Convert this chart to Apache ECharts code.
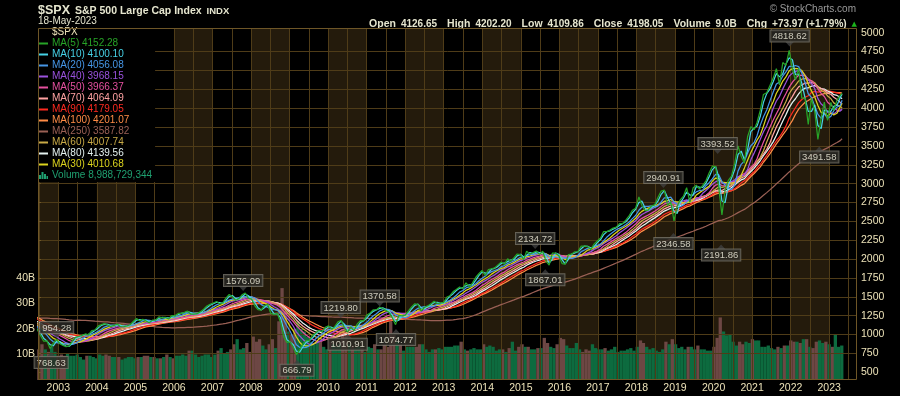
<!DOCTYPE html>
<html><head><meta charset="utf-8">
<script src="https://cdn.jsdelivr.net/npm/echarts@6/dist/echarts.min.js"></script>
<style>html,body{margin:0;padding:0;background:#000}#c{width:900px;height:396px}</style>
</head><body><div id="c"></div>
<script>
// ---------------- DATA ----------------
// S&P 500 closes, one per month, starting Jan 1997 (last value = 18-May-2023)
const priceStartYear = 1997, priceStartMonth = 1;
const lastDate = '2023-05-18';
const monthlyClose = [
786.16,790.82,757.12,801.34,848.28,885.14,954.29,899.47,947.28,914.62,955.40,970.43,
980.28,1049.34,1101.75,1111.75,1090.82,1133.84,1120.67,957.28,1017.01,1098.67,1163.63,1229.23,
1279.64,1238.33,1286.37,1335.18,1301.84,1372.71,1328.72,1320.41,1282.71,1362.93,1388.91,1469.25,
1394.46,1366.42,1498.58,1452.43,1420.60,1454.60,1430.83,1517.68,1436.51,1429.40,1314.95,1320.28,
1366.01,1239.94,1160.33,1249.46,1255.82,1224.38,1211.23,1133.58,1040.94,1059.78,1139.45,1148.08,
1130.20,1106.73,1147.39,1076.92,1067.14,989.82,911.62,916.07,815.28,885.76,936.31,879.82,
855.70,841.15,848.18,916.92,963.59,974.50,990.31,1008.01,995.97,1050.71,1058.20,1111.92,
1131.13,1144.94,1126.21,1107.30,1120.68,1140.84,1101.72,1104.24,1114.58,1130.20,1173.82,1211.92,
1181.27,1203.60,1180.59,1156.85,1191.50,1191.33,1234.18,1220.33,1228.81,1207.01,1249.48,1248.29,
1280.08,1280.66,1294.83,1310.61,1270.09,1270.20,1276.66,1303.82,1335.85,1377.94,1400.63,1418.30,
1438.24,1406.82,1420.86,1482.37,1530.62,1503.35,1455.27,1473.99,1526.75,1549.38,1481.14,1468.36,
1378.55,1330.63,1322.70,1385.59,1400.38,1280.00,1267.38,1282.83,1166.36,968.75,896.24,903.25,
825.88,735.09,797.87,872.81,919.14,919.32,987.48,1020.62,1057.08,1036.19,1095.63,1115.10,
1073.87,1104.49,1169.43,1186.69,1089.41,1030.71,1101.60,1049.33,1141.20,1183.26,1180.55,1257.64,
1286.12,1327.22,1325.83,1363.61,1345.20,1320.64,1292.28,1218.89,1131.42,1253.30,1246.96,1257.60,
1312.41,1365.68,1408.47,1397.91,1310.33,1362.16,1379.32,1406.58,1440.67,1412.16,1416.18,1426.19,
1498.11,1514.68,1569.19,1597.57,1630.74,1606.28,1685.73,1632.97,1681.55,1756.54,1805.81,1848.36,
1782.59,1859.45,1872.34,1883.95,1923.57,1960.23,1930.67,2003.37,1972.29,2018.05,2067.56,2058.90,
1994.99,2104.50,2067.89,2085.51,2107.39,2063.11,2103.84,1972.18,1920.03,2079.36,2080.41,2043.94,
1940.24,1932.23,2059.74,2065.30,2096.95,2098.86,2173.60,2170.95,2168.27,2126.15,2198.81,2238.83,
2278.87,2363.64,2362.72,2384.20,2411.80,2423.41,2470.30,2471.65,2519.36,2575.26,2647.58,2673.61,
2823.81,2713.83,2640.87,2648.05,2705.27,2718.37,2816.29,2901.52,2913.98,2711.74,2760.17,2506.85,
2704.10,2784.49,2834.40,2945.83,2752.06,2941.76,2980.38,2926.46,2976.74,3037.56,3140.98,3230.78,
3225.52,2954.22,2584.59,2912.43,3044.31,3100.29,3271.12,3500.31,3363.00,3269.96,3621.63,3756.07,
3714.24,3811.15,3972.89,4181.17,4204.11,4297.50,4395.26,4522.68,4307.54,4605.38,4567.00,4766.18,
4515.55,4373.94,4530.41,4131.93,4132.15,3785.38,4130.29,3955.00,3585.62,3871.98,4080.11,3839.50,
4076.60,3970.15,4109.31,4169.48,4198.05
];
// Weekly volume (billions) as drawn, one value per month from Jun 2002 to May 2023
const volumeStartYear = 2002, volumeStartMonth = 6;
const volumeB = [
12,14,12,11,13,11,9.5,
10,9.5,10.5,9.5,9.5,10,9,8,9.5,9.5,9,8.5,
10,9.5,10,9.5,9,9,9,8,8.5,9,9,8.5,
9,9,9.5,9.5,9,9,8.5,8.5,9,10,9,8.5,
9.5,9.5,10,9.5,11.5,11.5,10,9,9.5,10,10,9,
10,11.5,12.5,10.5,11,12,14,16,12,12.5,14.5,11,
17,15,16,13.5,12,14,16,12.5,23,36,27,19,
18,20,23,20,19,17,15,14,15,15,13,12,
15,14,13,14,20,17,14,13.5,12.5,13,12.5,11,
13,12.5,14,12,12,14,13,23,18,15,14,11.5,
13,13,13,13,14,14,12,11,12,12,12.5,12,
13,13,13,13.5,13.5,15,12,11.5,12,12.5,12,12,
14,13,13.5,13,11.5,12,12,11,12.5,15,11.5,13,
14,13,13,12,12,12.5,12.5,16.5,14.5,13,12.5,14,
16.5,16,13.5,12.5,12.5,14.5,12,11,12,11.5,14,12.5,
12,12,12.5,11.5,12,13,11,11.5,11.5,12,12.5,11.5,
13,15.5,14.5,13,12,12.5,11.5,11,12,15,14,16,
14,12.5,13,12,13,13,12,13.5,12,12,11.5,11.5,
13,16.5,24.5,19,17.5,18,15,13.5,15,14,15,14.5,
16,15.5,15.5,13,13,13.5,12.5,12,13,12.5,13.5,13.5,
15.5,15,15,14.5,16,16,13,12.5,15,15.5,14.5,15,
14,13,18,13,13.5
];
const volumeLast = 8988729344;
const maPeriods    = [5, 10, 20, 40, 50, 70, 90, 100, 250, 60, 80, 30];
const maLastValues = [4152.28, 4100.10, 4056.08, 3968.15, 3966.37, 4064.09, 4179.05, 4201.07, 3587.82, 4007.74, 4139.56, 4010.68];
const annDates  = ['2002-12-02','2002-10-10','2007-10-11','2009-03-06','2010-04-26','2010-07-01','2011-05-02','2011-10-04',
                   '2015-05-20','2015-08-24','2018-09-21','2018-12-26','2020-02-19','2020-03-23','2022-01-04','2022-10-13'];
const annValues = [954.28,768.63,1576.09,666.79,1219.80,1010.91,1370.58,1074.77,2134.72,1867.01,2940.91,2346.58,3393.52,2191.86,4818.62,3491.58];
const annKinds  = ['H','L','H','L','H','L','H','L','H','L','H','L','H','L','H','L'];
const priceTickMin = 500, priceTickMax = 5000, priceTickStep = 250;
const volumeTickLabels = [10, 20, 30, 40];
const headerLabels = ['Open','High','Low','Close','Volume','Chg'];
const headerValues = ['4126.65','4202.20','4109.86','4198.05','9.0B','+73.97 (+1.79%)'];
const chartDate = '18-May-2023';

// ---------------- STYLE ----------------
const FONT = '"Liberation Sans", Arial, sans-serif';
const CREAM = '#ece2b8';
const GRID_LINE = '#4f3c18';
const FRAME = '#6e5627';
const SHADE = '#241b0c';
const maColors = ['#27a327','#46d2e6','#4696e6','#9a52de','#e650a0','#ffa2a2','#ff2a20','#ff8c46','#9a6055','#c8aa46','#e4f2f0','#dcd41e'];
const PLOT = {left: 38, right: 43, top: 28, bottom: 16};          // plot box 38..857 x 28..380
const X2003 = 58.3, PX_PER_YEAR = 38.545;                          // x pixel of 1 Jan 2003, px per year
const Y500 = 372.3, Y5000 = 32.7;                                  // y pixels of price ticks
const VOL_PX_PER_B = 2.553;
const xOfYear = y => X2003 + (y - 2003) * PX_PER_YEAR;
const pxPerUnit = (Y500 - Y5000) / (priceTickMax - priceTickMin);
const yAxisLo = priceTickMin - priceTickStep, yAxisHi = priceTickMax + priceTickStep;
const g1Top = Y5000 - priceTickStep * pxPerUnit;
const g1Bottom = 396 - (Y500 + priceTickStep * pxPerUnit);
const plotBottomY = 396 - PLOT.bottom;
const pMin = priceTickMin - (plotBottomY - Y500) / pxPerUnit;
const pMax = priceTickMax + (Y5000 - PLOT.top) / pxPerUnit;
const volMax = (plotBottomY - PLOT.top) / VOL_PX_PER_B;
const decYearToTime = d => { const y = Math.floor(d); const a = Date.UTC(y,0,1), b = Date.UTC(y+1,0,1); return a + (d - y) * (b - a); };
const tMin = decYearToTime(2003 + (PLOT.left - X2003) / PX_PER_YEAR);
const tMax = decYearToTime(2003 + (900 - PLOT.right - X2003) / PX_PER_YEAR);

// ---------------- BUILD ----------------
const closeTimes = monthlyClose.map((_, i) => {
  if (i === monthlyClose.length - 1) return Date.parse(lastDate + 'T00:00:00Z');
  const k = priceStartMonth - 1 + i;
  return Date.UTC(priceStartYear + Math.floor(k / 12), (k % 12) + 1, 0);
});
function sma(arr, n) {
  return arr.map((_, i) => {
    if (i < n - 1) return null;
    let s = 0; for (let j = i - n + 1; j <= i; j++) s += arr[j];
    return s / n;
  });
}
const viewFrom = Date.UTC(2002, 3, 1);
const maSeries = maPeriods.map((p, i) => {
  const win = Math.max(1, Math.round(p * 12 / 52));
  const m = sma(monthlyClose, win);
  const data = [];
  closeTimes.forEach((t, j) => { if (t >= viewFrom && m[j] != null) data.push([t, +m[j].toFixed(2)]); });
  return {name: 'MA(' + p + ')', type: 'line', xAxisIndex: 0, yAxisIndex: 0, data,
    showSymbol: false, symbol: 'none', color: maColors[i], lineStyle: {width: 1.25, color: maColors[i]},
    z: 3, silent: true, period: p};
});
maSeries.sort((a, b) => b.period - a.period);
maSeries.forEach(s => delete s.period);

const volData = volumeB.map((v, i) => {
  const k = volumeStartMonth - 1 + i;
  const y = volumeStartYear + Math.floor(k / 12), m = k % 12;
  const pi = (y - priceStartYear) * 12 + m - (priceStartMonth - 1);
  const up = monthlyClose[pi] >= monthlyClose[pi - 1];
  return {value: [Date.UTC(y, m, 15), v], itemStyle: {color: up ? '#0d6b3f' : '#6d4744'}};
});

const annData = annDates.map((d, i) => {
  const hi = annKinds[i] === 'H';
  return {
    value: [Date.parse(d + 'T00:00:00Z'), annValues[i]],
    symbolRotate: hi ? 180 : 0,
    symbolOffset: [0, hi ? -2.5 : 2.5],
    label: {position: hi ? 'top' : 'bottom'}
  };
});

const maValueMap = {};
maPeriods.forEach((p, i) => maValueMap['MA(' + p + ')'] = maLastValues[i]);
const MA_ICON = 'path://M0,0ZM0,3H9V5H0ZM9,8Z';
const VOL_ICON = 'path://M0,8V4H2V8ZM2.5,8V1H4.5V8ZM5,8V3H7V8ZM7.5,8V5H9V8Z';
const legendData = [{name: '$SPX', icon: 'none', textStyle: {color: CREAM}}]
  .concat(maPeriods.map((p, i) => ({name: 'MA(' + p + ')', textStyle: {color: maColors[i]}})))
  .concat([{name: 'Volume', icon: VOL_ICON, textStyle: {color: '#1fa070'}}]);

const headerText = headerLabels.map((l, i) => '{b|' + l + '} {v|' + headerValues[i] + '}').join('  ') + ' {g|▲}';

const option = {
  backgroundColor: '#000',
  animation: false,
  useUTC: true,
  textStyle: {fontFamily: FONT},
  title: [
    {left: 38, top: 2, padding: 0, text: '{a|$SPX} {b|S&P 500 Large Cap Index} {c|INDX}',
     textStyle: {rich: {a: {fontSize: 12.5, fontWeight: 'bold', color: '#e6e6cf', fontFamily: FONT},
                        b: {fontSize: 10.5, color: '#e6e6cf', fontFamily: FONT},
                        c: {fontSize: 9.5, color: '#e6e6cf', fontFamily: FONT}}}},
    {left: 38, top: 16, padding: 0, text: chartDate, textStyle: {fontSize: 10, fontWeight: 'normal', color: '#e6e6cf', fontFamily: FONT}},
    {right: 43, top: 15, padding: 0, text: headerText,
     textStyle: {rich: {b: {fontSize: 10.5, fontWeight: 'bold', color: '#e6e6cf', fontFamily: FONT},
                        v: {fontSize: 10, color: '#e6e6cf', fontFamily: FONT},
                        g: {fontSize: 7, color: '#1bb31b', fontFamily: 'DejaVu Sans'}}}},
    {right: 44, top: 4, padding: 0, text: '© StockCharts.com', textStyle: {fontSize: 10, fontWeight: 'normal', color: '#9a9a9a', fontFamily: FONT}}
  ],
  legend: {
    orient: 'vertical', left: 38, top: 26, padding: [1, 3, 1, 1], itemGap: 0,
    itemWidth: 9, itemHeight: 8, icon: MA_ICON, selectedMode: false,
    backgroundColor: '#000', itemStyle: {borderWidth: 0},
    textStyle: {fontSize: 10, lineHeight: 11, fontFamily: FONT, padding: [0, 0, 0, -1]},
    formatter: name => name === '$SPX' ? name : name === 'Volume' ? 'Volume ' + volumeLast.toLocaleString('en-US') : name + ' ' + maValueMap[name].toFixed(2),
    data: legendData, z: 4
  },
  grid: [
    {left: PLOT.left, right: PLOT.right, top: PLOT.top, bottom: PLOT.bottom, show: false},
    {left: PLOT.left, right: PLOT.right, top: g1Top, bottom: g1Bottom, show: false},
    {left: xOfYear(2002.5), right: 900 - xOfYear(2023.5), top: PLOT.top, bottom: PLOT.bottom, show: false}
  ],
  xAxis: [
    {gridIndex: 0, type: 'time', min: tMin, max: tMax, show: false},
    {gridIndex: 2, type: 'value', min: 2002.5, max: 2023.5, interval: 0.5, position: 'bottom', z: 1,
     axisLine: {show: false}, axisTick: {show: false}, splitLine: {show: false},
     splitArea: {show: true, areaStyle: {color: [SHADE, 'rgba(0,0,0,0)', 'rgba(0,0,0,0)', SHADE]}},
     axisLabel: {formatter: v => Number.isInteger(Math.round(v * 100) / 100) ? String(Math.round(v)) : '',
                 color: CREAM, fontSize: 10.5, margin: 3, fontFamily: FONT}},
    {gridIndex: 2, type: 'value', min: 2002.5, max: 2023.5, interval: 0.5, position: 'top', z: 2.5,
     axisLine: {show: false}, axisTick: {show: false}, axisLabel: {show: false},
     splitLine: {show: true, lineStyle: {color: GRID_LINE, width: 1}}},
    {gridIndex: 1, type: 'value', min: 0, max: 1, show: false}
  ],
  yAxis: [
    {gridIndex: 0, type: 'value', min: pMin, max: pMax, show: false},
    {gridIndex: 0, type: 'value', position: 'left', min: 0, max: volMax, interval: 10,
     axisLine: {show: false}, axisTick: {show: false}, splitLine: {show: false},
     axisLabel: {formatter: v => volumeTickLabels.indexOf(Math.round(v)) >= 0 ? Math.round(v) + 'B' : '',
                 color: CREAM, fontSize: 10.5, margin: 3, fontFamily: FONT}},
    {gridIndex: 1, type: 'value', position: 'right', min: yAxisLo, max: yAxisHi, interval: priceTickStep, z: 2.5,
     axisLine: {show: false},
     axisTick: {show: true, length: 3, lineStyle: {color: FRAME},
                customValues: Array.from({length: (priceTickMax - priceTickMin) / priceTickStep + 1}, (_, i) => priceTickMin + i * priceTickStep)},
     splitLine: {show: true, showMinLine: false, showMaxLine: false, lineStyle: {color: GRID_LINE, width: 1}},
     axisLabel: {formatter: v => (v < priceTickMin || v > priceTickMax) ? '' : String(v),
                 color: CREAM, fontSize: 10.5, margin: 4, fontFamily: FONT}},
    {gridIndex: 2, type: 'value', min: 0, max: 1, show: false}
  ],
  graphic: [{type: 'rect', z: 100, silent: true,
    shape: {x: PLOT.left + 0.5, y: PLOT.top + 0.5, width: 900 - PLOT.left - PLOT.right - 1, height: 396 - PLOT.top - PLOT.bottom - 1},
    style: {fill: null, stroke: FRAME, lineWidth: 1}}],
  series: [
    {name: 'Volume', type: 'bar', xAxisIndex: 0, yAxisIndex: 1, data: volData, barWidth: 3.3,
     itemStyle: {color: '#1fa070'}, z: 2, silent: true},
    ...maSeries,
    {name: '$SPX', type: 'scatter', xAxisIndex: 0, yAxisIndex: 0, data: annData, z: 5, silent: true,
     symbol: 'triangle', symbolSize: [9, 5], itemStyle: {color: '#404040'},
     label: {show: true, distance: 0, formatter: p => p.value[1].toFixed(2), color: '#f2f0de', fontSize: 9.5,
             fontFamily: FONT, backgroundColor: '#2c2a25', borderColor: '#77746a', borderWidth: 1, padding: [1, 2, 0, 2]}}
  ]
};
const chart = echarts.init(document.getElementById('c'));
chart.setOption(option);
</script></body></html>
